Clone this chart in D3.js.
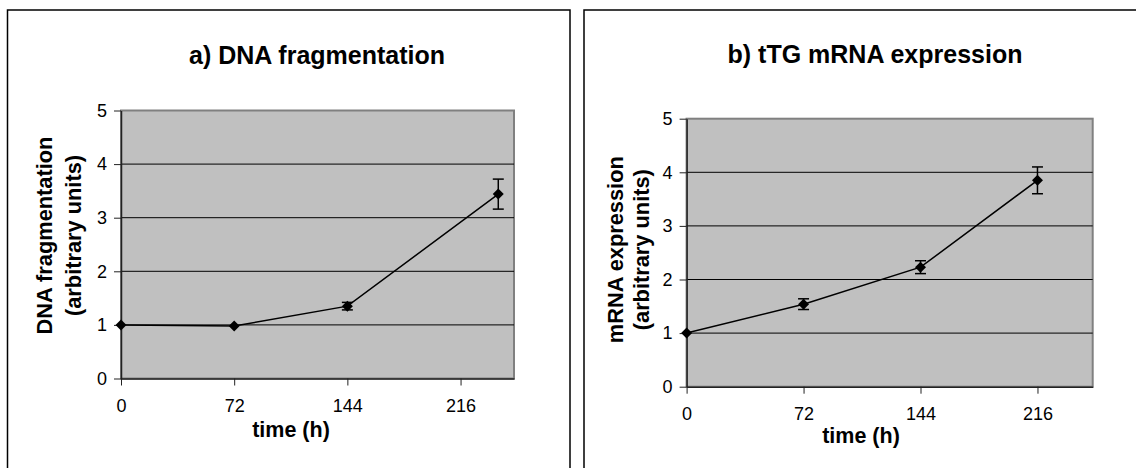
<!DOCTYPE html>
<html>
<head>
<meta charset="utf-8">
<script src="https://cdn.jsdelivr.net/npm/d3@7"></script>
<style>
  body { margin: 0; background: #fff; }
  svg { display: block; font-family: "Liberation Sans", Arial, sans-serif; }
</style>
</head>
<body>
<div id="chart"></div>
<script>
// tick labels
const timeTicks = [0, 72, 144, 216];
const valueTicks = [0, 1, 2, 3, 4, 5];

// a) DNA fragmentation
const dnaTime = [0, 72, 144, 240];
const dnaValue = [1.0, 0.98, 1.35, 3.44];
const dnaError = [0, 0, 0.07, 0.28];

// b) tTG mRNA expression
const mrnaTime = [0, 72, 144, 216];
const mrnaValue = [1.0, 1.54, 2.23, 3.85];
const mrnaError = [0, 0.1, 0.12, 0.25];

const width = 1136, height = 468;
const font = '"Liberation Sans", Arial, sans-serif';

const svg = d3.select("#chart").append("svg")
  .attr("width", width)
  .attr("height", height);

const panels = [
  {
    title: "a) DNA fragmentation",
    yLabel: ["DNA fragmentation", "(arbitrary units)"],
    time: dnaTime, value: dnaValue, error: dnaError,
    box: { x: 7.5, y: 10, w: 562.5 },
    plot: { left: 121, right: 514, top: 110.5, bottom: 378.5 },
    titleX: 317, titleY: 64,
    xLabelX: 291, xLabelDy: 58.5,
    yLabelDx: [69, 40], yLabelDy: -9
  },
  {
    title: "b) tTG mRNA expression",
    yLabel: ["mRNA expression", "(arbitrary units)"],
    time: mrnaTime, value: mrnaValue, error: mrnaError,
    box: { x: 584, y: 10, w: 600 },
    plot: { left: 686.6, right: 1092.7, top: 118.7, bottom: 386.7 },
    titleX: 875, titleY: 63,
    xLabelX: 861, xLabelDy: 56,
    yLabelDx: [64, 38], yLabelDy: -3
  }
];

panels.forEach(p => {
  const g = svg.append("g");

  // outer frame
  g.append("rect")
    .attr("x", p.box.x).attr("y", p.box.y)
    .attr("width", p.box.w).attr("height", height)
    .attr("fill", "none")
    .attr("stroke", "#000")
    .attr("stroke-width", 1.5);

  const x = d3.scaleLinear().domain([0, 250]).range([p.plot.left, p.plot.right]);
  const y = d3.scaleLinear().domain([0, 5]).range([p.plot.bottom, p.plot.top]);

  // plot area
  g.append("rect")
    .attr("x", x(0)).attr("y", y(5))
    .attr("width", x(250) - x(0)).attr("height", y(0) - y(5))
    .attr("fill", "#c0c0c0")
    .attr("stroke", "#808080")
    .attr("stroke-width", 2);

  // gridlines
  g.append("g")
    .selectAll("line")
    .data(valueTicks.filter(v => v > 0 && v < 5))
    .join("line")
    .attr("x1", x(0)).attr("x2", x(250))
    .attr("y1", d => y(d)).attr("y2", d => y(d))
    .attr("stroke", "#000")
    .attr("stroke-width", 1);

  // y axis
  const yAxis = g.append("g")
    .attr("transform", `translate(${x(0)},0)`)
    .call(d3.axisLeft(y).tickValues(valueTicks).tickFormat(d3.format("d"))
      .tickSize(7).tickPadding(7).tickSizeOuter(0))
    .attr("font-family", font);
  yAxis.select(".domain").attr("stroke", "#222").attr("stroke-width", 1.5);
  yAxis.selectAll(".tick line").attr("stroke", "#222");
  yAxis.selectAll(".tick text")
    .attr("font-size", 18)
    .attr("fill", "#000");

  // x axis
  const xAxis = g.append("g")
    .attr("transform", `translate(0,${y(0)})`)
    .call(d3.axisBottom(x).tickValues(timeTicks).tickSize(7).tickPadding(14).tickSizeOuter(0))
    .attr("font-family", font);
  xAxis.select(".domain").attr("stroke", "#222").attr("stroke-width", 1.5);
  xAxis.selectAll(".tick line").attr("stroke", "#222");
  xAxis.selectAll(".tick text")
    .attr("font-size", 18)
    .attr("fill", "#000");

  // title
  g.append("text")
    .attr("x", p.titleX).attr("y", p.titleY)
    .attr("text-anchor", "middle")
    .attr("font-size", 25)
    .attr("font-weight", "bold")
    .text(p.title);

  // x axis title
  g.append("text")
    .attr("x", p.xLabelX).attr("y", y(0) + p.xLabelDy)
    .attr("text-anchor", "middle")
    .attr("font-size", 21.5)
    .attr("font-weight", "bold")
    .text("time (h)");

  // y axis title, two lines
  const cy = (y(0) + y(5)) / 2 + p.yLabelDy;
  p.yLabel.forEach((line, i) => {
    g.append("text")
      .attr("transform", `translate(${x(0) - p.yLabelDx[i]},${cy}) rotate(-90)`)
      .attr("text-anchor", "middle")
      .attr("font-size", 21.8)
      .attr("font-weight", "bold")
      .text(line);
  });

  const pts = p.time.map((t, i) => ({ t, v: p.value[i], e: p.error[i] }));

  // line
  g.append("path")
    .datum(pts)
    .attr("fill", "none")
    .attr("stroke", "#000")
    .attr("stroke-width", 1.5)
    .attr("d", d3.line().x(d => x(d.t)).y(d => y(d.v)));

  // error bars
  const eb = g.append("g").attr("stroke", "#000").attr("stroke-width", 1.5);
  const withErr = pts.filter(d => d.e > 0);
  eb.selectAll("line.v").data(withErr).join("line").attr("class", "v")
    .attr("x1", d => x(d.t)).attr("x2", d => x(d.t))
    .attr("y1", d => y(d.v - d.e)).attr("y2", d => y(d.v + d.e));
  eb.selectAll("line.top").data(withErr).join("line").attr("class", "top")
    .attr("x1", d => x(d.t) - 5.5).attr("x2", d => x(d.t) + 5.5)
    .attr("y1", d => y(d.v + d.e)).attr("y2", d => y(d.v + d.e));
  eb.selectAll("line.bot").data(withErr).join("line").attr("class", "bot")
    .attr("x1", d => x(d.t) - 5.5).attr("x2", d => x(d.t) + 5.5)
    .attr("y1", d => y(d.v - d.e)).attr("y2", d => y(d.v - d.e));

  // diamond markers
  g.append("g").selectAll("path")
    .data(pts)
    .join("path")
    .attr("transform", d => `translate(${x(d.t)},${y(d.v)})`)
    .attr("d", "M0,-5.5L5.5,0L0,5.5L-5.5,0Z")
    .attr("fill", "#000");
});
</script>
</body>
</html>
